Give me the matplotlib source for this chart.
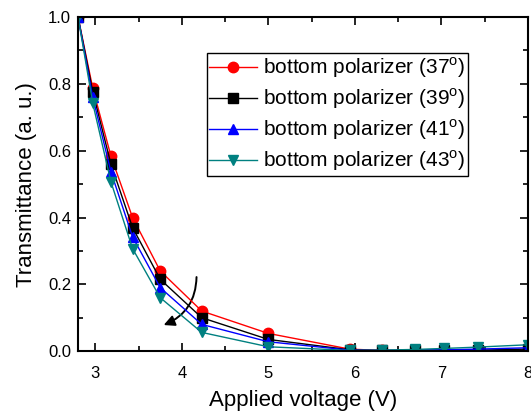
import matplotlib
matplotlib.use("Agg")
import matplotlib.pyplot as plt
from matplotlib.patches import FancyArrowPatch
from matplotlib.ticker import MultipleLocator

plt.rcParams['font.family'] = ['Liberation Sans', 'DejaVu Sans']
plt.rcParams['mathtext.fontset'] = 'custom'
plt.rcParams['mathtext.rm'] = 'Liberation Sans'

voltage = [2.8, 2.97, 3.18, 3.43, 3.75, 4.23, 5.0, 5.94, 6.31, 6.7, 7.03, 7.42, 8.0]
t37 = [1.0, 0.787, 0.584, 0.40, 0.24, 0.12, 0.053, 0.006, 0.002, 0.001, 0.001, 0.001, 0.002]
t39 = [1.0, 0.776, 0.56, 0.37, 0.215, 0.10, 0.035, 0.004, 0.002, 0.002, 0.003, 0.003, 0.006]
t41 = [1.0, 0.76, 0.537, 0.342, 0.19, 0.08, 0.028, 0.003, 0.002, 0.003, 0.004, 0.006, 0.010]
t43 = [1.0, 0.742, 0.507, 0.307, 0.16, 0.056, 0.013, 0.002, 0.003, 0.005, 0.008, 0.012, 0.019]
labels = ['bottom polarizer (37$^{\\mathrm{o}}$)', 'bottom polarizer (39$^{\\mathrm{o}}$)',
          'bottom polarizer (41$^{\\mathrm{o}}$)', 'bottom polarizer (43$^{\\mathrm{o}}$)']

fig = plt.figure(figsize=(5.31, 4.17), dpi=100)
ax = fig.add_axes([0.147, 0.158, 0.847, 0.801])

styles = [('red', 'o', 7.5), ('black', 's', 6.5), ('blue', '^', 7.5), ('#008080', 'v', 7.5)]
for y, lab, (c, m, ms) in zip([t37, t39, t41, t43], labels, styles):
    ax.plot(voltage, y, color=c, marker=m, markersize=ms, linewidth=1, label=lab)

ax.set_xlim(2.8, 8)
ax.set_ylim(0, 1.0)
ax.xaxis.set_major_locator(MultipleLocator(1))
ax.xaxis.set_minor_locator(MultipleLocator(0.5))
ax.yaxis.set_major_locator(MultipleLocator(0.2))
ax.yaxis.set_minor_locator(MultipleLocator(0.1))
ax.tick_params(which='both', direction='in', top=True, right=True, width=1.2, labelsize=12)
ax.tick_params(which='major', length=6)
ax.tick_params(which='minor', length=3.5)
ax.tick_params(axis='x', which='major', pad=11)
ax.tick_params(axis='y', which='major', pad=5)
for s in ax.spines.values():
    s.set_linewidth(1.5)

ax.set_xlabel('Applied voltage (V)', fontsize=16, labelpad=6)
ax.set_ylabel('Transmittance (a. u.)', fontsize=16, labelpad=8)

leg = ax.legend(loc='upper right', bbox_to_anchor=(0.867, 0.892), fontsize=15,
                handlelength=2.3, labelspacing=0.3, borderpad=0.12,
                handletextpad=0.3, borderaxespad=0, fancybox=False, framealpha=1,
                edgecolor='black')
leg.get_frame().set_linewidth(1.0)

arrow = FancyArrowPatch((4.17, 0.23), (3.76, 0.075), connectionstyle='arc3,rad=-0.35',
                        arrowstyle='-|>', mutation_scale=16, color='black', linewidth=1.4)
ax.add_patch(arrow)

fig.savefig('out.png', dpi=100)
